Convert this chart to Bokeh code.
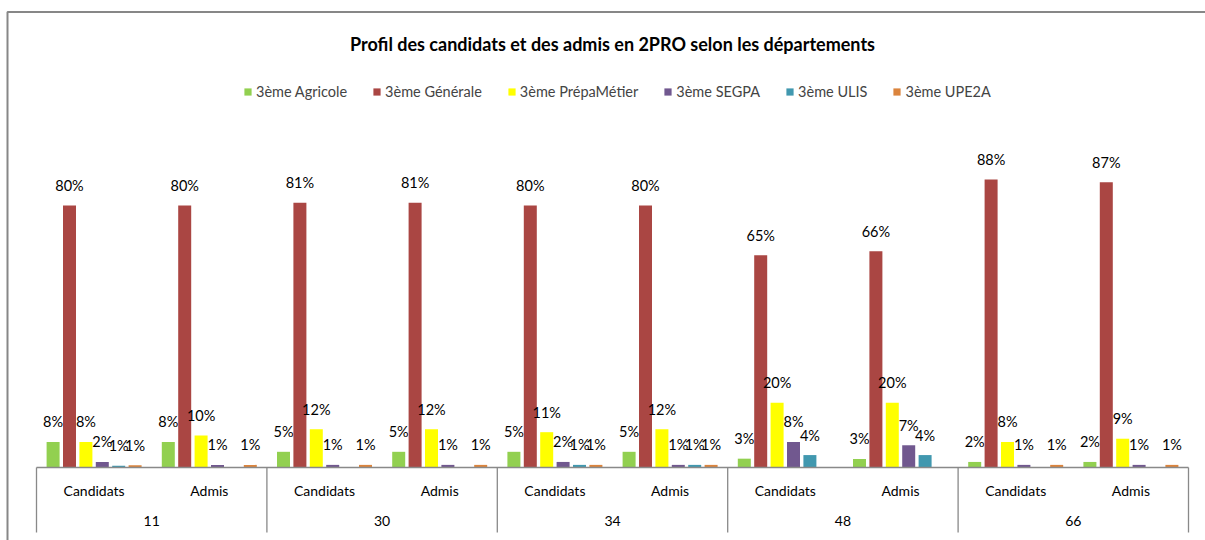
from bokeh.plotting import figure
from bokeh.models import ColumnDataSource, Range1d, Legend, LegendItem, Label
from bokeh.embed import file_html
from bokeh.resources import INLINE
from bokeh.core.properties import value

# ---------------- data ----------------
title = "Profil des candidats et des admis en 2PRO selon les départements"
departements = ["11", "30", "34", "48", "66"]
populations = ["Candidats", "Admis"]
series = ["3ème Agricole", "3ème Générale", "3ème PrépaMétier",
          "3ème SEGPA", "3ème ULIS", "3ème UPE2A"]
colors = ["#92D050", "#AA4643", "#FFFF00", "#71588F", "#4198AF", "#DB843D"]

# values in %, order: 11 Candidats, 11 Admis, 30 C, 30 A, 34 C, 34 A, 48 C, 48 A, 66 C, 66 A
agricole = [7.8, 7.8, 4.8, 4.8, 4.8, 4.8, 2.7, 2.6, 1.7, 1.7]
generale = [80.1, 80.1, 81.0, 81.0, 80.1, 80.1, 64.9, 66.1, 88.1, 87.2]
prepametier = [7.8, 9.8, 11.7, 11.7, 10.8, 11.7, 19.8, 19.8, 7.8, 8.8]
segpa = [1.7, 0.8, 0.8, 0.8, 1.7, 0.8, 7.8, 6.8, 0.8, 0.8]
ulis = [0.55, 0.0, 0.0, 0.0, 0.8, 0.8, 3.8, 3.8, 0.0, 0.0]
upe2a = [0.7, 0.8, 0.8, 0.8, 0.8, 0.8, 0.0, 0.0, 0.8, 0.8]
all_values = [agricole, generale, prepametier, segpa, ulis, upe2a]

# ---------------- layout helpers ----------------
W, H = 1205, 540
PX_X = 115.2          # pixels per category
PX_Y = 3.27           # pixels per percent
LEFT = 36             # px from figure left to first category
BASE = 467            # px from figure top to baseline
FONT = "Lato"

x_range = Range1d(-LEFT / PX_X, (W - LEFT) / PX_X)
y_range = Range1d(-(H - BASE) / PX_Y, BASE / PX_Y)


def dx(px):
    return x_range.start + px / PX_X


def dy(py):
    return y_range.end - py / PX_Y


p = figure(width=W, height=H, x_range=x_range, y_range=y_range,
           output_backend="svg", toolbar_location=None,
           x_axis_location=None, y_axis_location=None, min_border=0)
p.grid.visible = False
p.outline_line_color = None
p.background_fill_color = "white"
p.border_fill_color = "white"

# chart border (left & top)
p.line(x=[dx(7), dx(7), dx(W + 10)], y=[dy(H + 10), dy(11.5), dy(11.5)],
       line_color="#878787", line_width=2)

n_cat = len(departements) * len(populations)
pitch = 16.4 / PX_X
bar_w = 13.0 / PX_X

legend_items = []
for s, (name, vals, col) in enumerate(zip(series, all_values, colors)):
    xs = [c + 0.5 + (s - 2.5) * pitch for c in range(n_cat)]
    labels = [f"{int(v + 0.5)}%" if v > 0 else "" for v in vals]
    src = ColumnDataSource(dict(x=xs, top=vals, label=labels))
    r = p.vbar(x="x", top="top", width=bar_w, bottom=0, source=src,
               fill_color=col, line_color=None)
    p.text(x="x", y="top", text="label", source=src, y_offset=-20,
           text_align="center", text_baseline="middle",
           text_font=value(FONT), text_font_size="14.5px", text_color="black")
    legend_items.append(LegendItem(label=name, renderers=[r]))

# category axis
p.segment(x0=[0], y0=[0], x1=[n_cat], y1=[0], line_color="#898989", line_width=1.3)
sep_x = [2 * g for g in range(len(departements) + 1)]
p.segment(x0=sep_x, y0=[0] * len(sep_x), x1=sep_x, y1=[dy(532)] * len(sep_x),
          line_color="#898989", line_width=1.3)

cat_x = [c + 0.5 for c in range(n_cat)]
cat_lab = [populations[c % 2] for c in range(n_cat)]
p.text(x=cat_x, y=[0] * n_cat, text=cat_lab, y_offset=23,
       text_align="center", text_baseline="middle",
       text_font=value(FONT), text_font_size="14px", text_color="black")
dep_x = [2 * g + 1 for g in range(len(departements))]
p.text(x=dep_x, y=[0] * len(dep_x), text=departements, y_offset=53,
       text_align="center", text_baseline="middle",
       text_font=value(FONT), text_font_size="14px", text_color="black")

# title
p.add_layout(Label(x=n_cat / 2, y=dy(43), text=title, text_align="center",
                   text_baseline="middle", text_font=FONT, text_font_style="bold",
                   text_font_size="18px", text_color="black"))

legend = Legend(items=legend_items, orientation="horizontal", location=(243, 440),
                glyph_width=9, glyph_height=9, label_standoff=4, spacing=25,
                padding=0, margin=0, border_line_color=None,
                background_fill_alpha=0, label_text_font=FONT,
                label_text_font_size="14.5px", label_height=18)
p.add_layout(legend)

open("out.html", "w").write(file_html(p, INLINE))
